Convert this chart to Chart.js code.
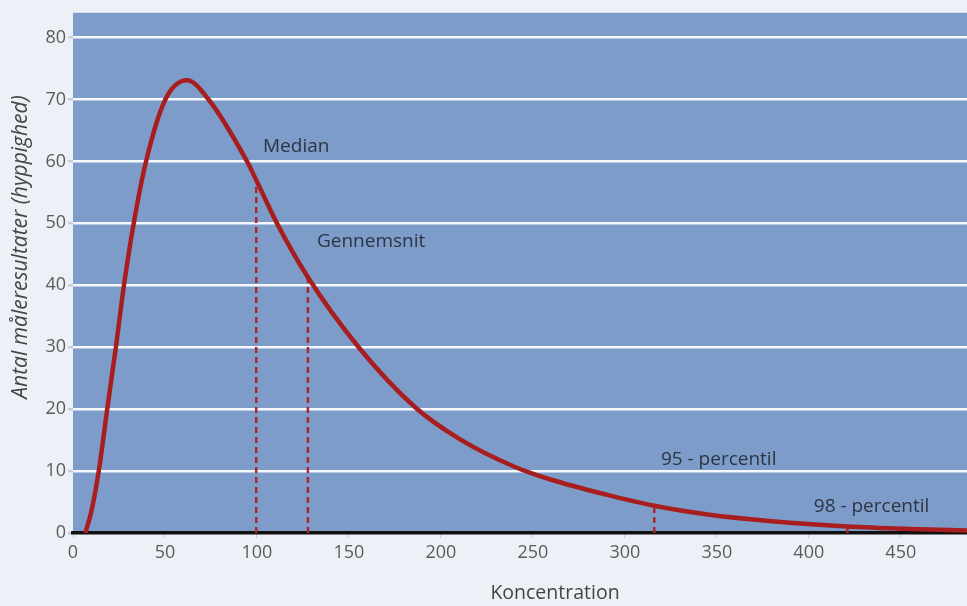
<!DOCTYPE html>
<html>
<head>
<meta charset="utf-8">
<script src="https://cdn.jsdelivr.net/npm/chart.js@4/dist/chart.umd.min.js"></script>
<style>
  html, body { margin: 0; padding: 0; background: #edf1f7; }
  #wrap { width: 967px; height: 606px; position: relative; }
</style>
</head>
<body>
<div id="wrap"><canvas id="c" width="967" height="606"></canvas></div>
<script>
// ---- data ----
const concentration = [6.7, 10, 14, 18.6, 23.3, 27.7, 33, 39.7, 50.2, 62, 73.7, 94.6, 99.6, 110.9, 127.7, 155.3, 186, 210, 240, 260, 290, 316, 345, 380, 421, 455, 487];
const frequency     = [0, 3.5, 10, 20, 30, 40, 50, 60, 70, 73.1, 70, 60, 57, 50, 41.3, 30, 20.3, 15.2, 10.7, 8.6, 6.2, 4.4, 3.0, 1.9, 1.05, 0.65, 0.4];

const markerNames  = ["Median", "Gennemsnit", "95 - percentil", "98 - percentil"];
const markerX      = [99.6, 127.7, 316, 421];
const markerTop    = [57, 41.3, 4.4, 1.05];
const labelX       = [103.3, 132.6, 319.6, 402.7];
const labelY       = [62.4, 47.1, 11.8, 4.3];

const xTicks = [0, 50, 100, 150, 200, 250, 300, 350, 400, 450];
const yTicks = [0, 10, 20, 30, 40, 50, 60, 70, 80];
const xTitle = "Koncentration";
const yTitle = "Antal måleresultater (hyppighed)";

const FONT = "'Open Sans', 'Noto Sans', sans-serif";

const curve = concentration.map((x, i) => ({ x, y: frequency[i] }));
const markerSets = markerX.map((x, i) => ({
  data: [{ x, y: 0 }, { x, y: markerTop[i] }],
  borderColor: '#a8282c',
  borderWidth: 2.5,
  borderDash: [6, 4],
  pointRadius: 0,
  showLine: true,
  fill: false,
  order: 2
}));

const bgPlugin = {
  id: 'plotBg',
  beforeDraw(chart) {
    const { ctx, chartArea: a } = chart;
    ctx.save();
    ctx.fillStyle = '#edf1f7';
    ctx.fillRect(0, 0, chart.width, chart.height);
    ctx.fillStyle = '#7d9cca';
    ctx.fillRect(a.left, a.top, a.right - a.left, a.bottom - a.top);
    ctx.restore();
  }
};

const textPlugin = {
  id: 'texts',
  afterDatasetsDraw(chart) {
    const { ctx, scales: { x, y } } = chart;
    ctx.save();
    ctx.font = '19px ' + FONT;
    ctx.fillStyle = '#2e3440';
    ctx.textAlign = 'left';
    ctx.textBaseline = 'middle';
    markerNames.forEach((t, i) => {
      ctx.fillText(t, x.getPixelForValue(labelX[i]), y.getPixelForValue(labelY[i]));
    });
    // axis titles
    ctx.fillStyle = '#444';
    ctx.textAlign = 'center';
    ctx.font = '19.5px ' + FONT;
    ctx.fillText(xTitle, 555, 593);
    ctx.translate(21, 247);
    ctx.rotate(-Math.PI / 2);
    ctx.font = 'italic 21px ' + FONT;
    ctx.fillText(yTitle, 0, 0);
    ctx.restore();
  }
};

new Chart(document.getElementById('c'), {
  type: 'scatter',
  data: {
    datasets: [
      {
        data: curve,
        borderColor: '#a81e1e',
        borderWidth: 4.5,
        pointRadius: 0,
        showLine: true,
        fill: false,
        cubicInterpolationMode: 'monotone',
        order: 1
      },
      ...markerSets
    ]
  },
  options: {
    responsive: false,
    animation: false,
    events: [],
    layout: { padding: { top: 12, right: 0, left: 0, bottom: 0 } },
    plugins: { legend: { display: false }, tooltip: { enabled: false } },
    scales: {
      x: {
        type: 'linear',
        min: 0,
        max: 486,
        afterFit(s) { s.height = 73; },
        afterBuildTicks(s) { s.ticks = xTicks.map(v => ({ value: v })); },
        grid: { drawOnChartArea: false, drawTicks: true, tickLength: 5, tickColor: '#c8ccd4', lineWidth: 1 },
        border: { display: true, color: '#111', width: 3.5 },
        ticks: { color: '#5a5a5a', font: { family: FONT, size: 18 }, padding: 4, maxRotation: 0 }
      },
      y: {
        min: 0,
        max: 84,
        afterFit(s) { s.width = 73; },
        afterBuildTicks(s) { s.ticks = yTicks.map(v => ({ value: v })); },
        grid: {
          color: c => (c.tick && c.tick.value === 0) ? 'rgba(0,0,0,0)' : '#f6f8fb',
          lineWidth: 2.5,
          tickLength: 5,
          tickColor: '#c8ccd4'
        },
        border: { display: false },
        ticks: { color: '#5a5a5a', font: { family: FONT, size: 18 }, padding: 2 }
      }
    }
  },
  plugins: [bgPlugin, textPlugin]
});
</script>
</body>
</html>
